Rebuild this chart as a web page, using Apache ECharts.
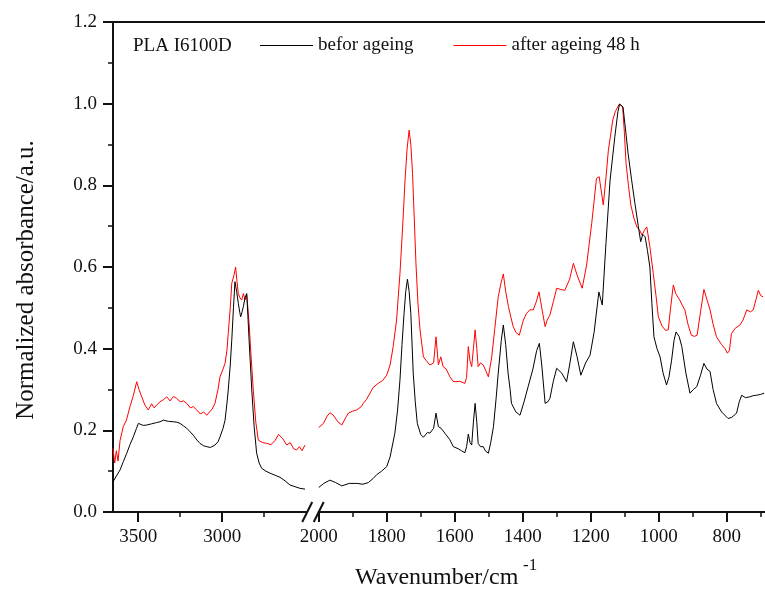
<!DOCTYPE html>
<html>
<head>
<meta charset="utf-8">
<script src="https://cdn.jsdelivr.net/npm/echarts@6/dist/echarts.min.js"></script>
<style>
  html, body { margin: 0; padding: 0; background: #fff; }
  #chart { width: 765px; height: 592px; }
</style>
</head>
<body>
<div id="chart"></div>
<script>
// FTIR spectra of PLA I6100D, before and after 48 h of ageing.
// The wavenumber axis is broken: 3650-2500 cm-1 on the left, 2000-600 cm-1 on the right.

// ---- before ageing, high-wavenumber region ----
const beforeHighWn = [3650,3630,3608,3588,3568,3549,3529,3510,3499,3470,3449,3420,3390,3370,3350,3320,3291,3270,3251,3231,3211,3190,3172,3150,3132,3110,3092,3070,3043,3025,3013,2995,2983,2972,2964,2952,2943,2933,2924,2914,2904,2895,2890,2882,2874,2864,2854,2847,2840,2832,2824,2810,2795,2780,2765,2740,2715,2685,2656,2625,2596,2567,2537,2507];
const beforeHighAbs = [0.074,0.088,0.103,0.124,0.144,0.165,0.184,0.205,0.217,0.212,0.213,0.216,0.219,0.221,0.225,0.222,0.221,0.220,0.217,0.211,0.205,0.196,0.188,0.176,0.168,0.162,0.160,0.158,0.164,0.172,0.184,0.205,0.225,0.265,0.299,0.360,0.421,0.500,0.564,0.540,0.511,0.488,0.478,0.490,0.503,0.525,0.535,0.480,0.421,0.360,0.299,0.210,0.144,0.120,0.107,0.100,0.095,0.090,0.085,0.076,0.066,0.062,0.058,0.056];

// ---- after ageing 48 h, high-wavenumber region ----
const afterHighWn = [3650,3640,3630,3620,3608,3589,3570,3549,3529,3509,3495,3479,3460,3440,3420,3405,3390,3370,3350,3330,3310,3290,3271,3250,3230,3211,3190,3172,3152,3130,3110,3092,3075,3060,3043,3025,3013,2995,2983,2972,2964,2952,2943,2930,2920,2912,2904,2895,2884,2874,2864,2854,2847,2840,2828,2815,2800,2785,2760,2735,2710,2685,2665,2656,2640,2616,2595,2575,2557,2540,2525,2507];
const afterHighAbs = [0.156,0.120,0.150,0.125,0.175,0.209,0.225,0.258,0.285,0.319,0.300,0.282,0.262,0.250,0.265,0.255,0.262,0.270,0.275,0.282,0.272,0.283,0.278,0.270,0.272,0.266,0.255,0.258,0.250,0.240,0.245,0.237,0.245,0.252,0.266,0.300,0.331,0.350,0.364,0.395,0.437,0.500,0.560,0.580,0.600,0.565,0.535,0.525,0.519,0.535,0.520,0.531,0.500,0.462,0.380,0.299,0.220,0.176,0.170,0.168,0.165,0.175,0.190,0.193,0.180,0.164,0.170,0.155,0.152,0.160,0.150,0.164];

// ---- before ageing, fingerprint region ----
const beforeLowWn = [2000,1985,1967,1950,1932,1910,1888,1870,1854,1840,1830,1815,1800,1790,1776,1768,1761,1755,1749,1744,1739,1734,1729,1722,1716,1710,1700,1692,1680,1673,1662,1655,1648,1640,1629,1615,1604,1590,1580,1570,1565,1560,1555,1550,1545,1540,1535,1531,1524,1516,1510,1501,1494,1486,1478,1472,1463,1457,1450,1443,1437,1433,1420,1408,1396,1384,1370,1359,1351,1344,1334,1326,1320,1310,1300,1285,1271,1262,1251,1240,1229,1215,1202,1190,1176,1166,1155,1143,1129,1120,1115,1105,1098,1090,1080,1070,1060,1053,1047,1040,1033,1026,1020,1014,1005,996,987,977,970,962,955,949,940,932,920,908,898,888,877,867,858,849,840,830,815,796,785,771,763,756,745,732,722,712,700,690];
const beforeLowAbs = [0.060,0.070,0.078,0.072,0.064,0.070,0.070,0.068,0.072,0.082,0.091,0.100,0.111,0.135,0.193,0.250,0.323,0.410,0.486,0.540,0.570,0.540,0.486,0.340,0.270,0.217,0.190,0.183,0.195,0.193,0.205,0.242,0.209,0.205,0.193,0.178,0.160,0.155,0.150,0.145,0.160,0.191,0.170,0.164,0.220,0.266,0.220,0.168,0.160,0.160,0.150,0.144,0.170,0.209,0.280,0.340,0.420,0.458,0.410,0.340,0.300,0.266,0.245,0.237,0.270,0.307,0.350,0.395,0.413,0.360,0.266,0.270,0.278,0.320,0.352,0.340,0.319,0.360,0.417,0.380,0.335,0.365,0.384,0.440,0.539,0.507,0.660,0.813,0.919,0.980,0.999,0.992,0.940,0.878,0.815,0.756,0.700,0.662,0.680,0.674,0.640,0.600,0.510,0.429,0.400,0.380,0.340,0.311,0.330,0.372,0.420,0.441,0.430,0.405,0.340,0.291,0.300,0.307,0.335,0.364,0.350,0.344,0.300,0.266,0.245,0.229,0.232,0.242,0.270,0.286,0.280,0.282,0.285,0.286,0.288,0.291];

// ---- after ageing 48 h, fingerprint region ----
const afterLowWn = [2000,1986,1975,1967,1958,1947,1940,1932,1920,1913,1900,1888,1875,1869,1860,1849,1840,1825,1812,1800,1790,1781,1771,1761,1753,1746,1740,1734,1729,1724,1719,1714,1708,1702,1692,1683,1673,1662,1655,1648,1641,1634,1625,1614,1605,1599,1585,1570,1565,1560,1555,1550,1545,1540,1535,1531,1524,1516,1508,1501,1491,1482,1472,1464,1457,1450,1442,1435,1428,1420,1410,1398,1389,1379,1369,1360,1352,1344,1334,1328,1320,1310,1300,1288,1276,1262,1251,1240,1225,1212,1197,1183,1175,1163,1155,1148,1135,1128,1116,1106,1101,1096,1089,1082,1073,1064,1056,1049,1042,1035,1026,1016,1008,1001,990,980,972,965,957,950,938,930,923,914,904,895,887,877,867,858,849,840,830,815,805,798,792,786,775,761,752,741,730,722,714,707,700,693];
const afterLowAbs = [0.207,0.217,0.235,0.243,0.238,0.225,0.218,0.213,0.232,0.242,0.247,0.250,0.258,0.266,0.275,0.291,0.305,0.315,0.322,0.335,0.360,0.405,0.470,0.584,0.700,0.813,0.890,0.935,0.900,0.829,0.720,0.609,0.510,0.446,0.380,0.370,0.360,0.365,0.429,0.360,0.380,0.356,0.350,0.331,0.320,0.319,0.320,0.315,0.330,0.405,0.370,0.356,0.400,0.446,0.400,0.356,0.365,0.360,0.345,0.331,0.380,0.450,0.527,0.560,0.583,0.540,0.503,0.478,0.454,0.440,0.433,0.470,0.486,0.495,0.495,0.515,0.539,0.500,0.454,0.470,0.482,0.515,0.548,0.545,0.543,0.570,0.609,0.580,0.548,0.605,0.707,0.817,0.821,0.752,0.820,0.886,0.960,0.980,0.999,0.992,0.930,0.854,0.800,0.752,0.720,0.698,0.690,0.678,0.690,0.698,0.650,0.584,0.530,0.478,0.455,0.445,0.446,0.500,0.556,0.535,0.519,0.505,0.495,0.460,0.433,0.430,0.433,0.490,0.545,0.520,0.495,0.460,0.429,0.410,0.400,0.389,0.395,0.437,0.450,0.458,0.470,0.495,0.490,0.495,0.520,0.543,0.530,0.527];

// ---- axis ticks ----
const yTicks = [0, 0.2, 0.4, 0.6, 0.8, 1.0, 1.2];
const highMajorTicks = [3000, 3500];
const highMinorTicks = [2750, 3250];
const lowMajorTicks = [2000, 1800, 1600, 1400, 1200, 1000, 800];

const sampleName = 'PLA I6100D';
const beforeName = 'befor ageing';
const afterName = 'after ageing 48 h';

const FONT = '"Liberation Serif", "Times New Roman", serif';
const INK = '#111';

function pairs(xs, ys) { return xs.map((x, i) => [x, ys[i]]); }

const chart = echarts.init(document.getElementById('chart'), null, { renderer: 'canvas' });

const baseX = {
  type: 'value', inverse: true, position: 'bottom',
  splitLine: { show: false },
  axisLine: { show: true, onZero: false, lineStyle: { color: INK, width: 2 } },
  axisTick: { show: true, inside: false, length: 10, lineStyle: { color: INK, width: 2 } },
  axisLabel: { show: true, margin: 16, fontFamily: FONT, fontSize: 19, color: INK, formatter: v => String(v) },
};

const option = {
  animation: false,
  backgroundColor: '#fff',
  grid: [
    { left: 113, top: 22, width: 193.2, height: 490, outerBoundsMode: 'none', containLabel: false },
    { left: 318.7, top: 22, width: 476, height: 490, outerBoundsMode: 'none', containLabel: false }
  ],
  xAxis: [
    Object.assign({}, baseX, {
      gridIndex: 0, min: 2500, max: 3650,
      axisTick: Object.assign({}, baseX.axisTick, { customValues: highMajorTicks }),
      axisLabel: Object.assign({}, baseX.axisLabel, { customValues: highMajorTicks })
    }),
    Object.assign({}, baseX, {
      gridIndex: 1, min: 600, max: 2000, interval: 200,
      minorTick: { show: true, splitNumber: 2, length: 5, lineStyle: { color: INK, width: 1.5 } },
      axisLabel: Object.assign({}, baseX.axisLabel, {
        formatter: v => (lowMajorTicks.indexOf(v) >= 0 ? String(v) : '')
      })
    }),
    // minor ticks of the left segment
    {
      type: 'value', inverse: true, position: 'bottom', gridIndex: 0, min: 2500, max: 3650,
      splitLine: { show: false },
      axisLine: { show: true, onZero: false, lineStyle: { color: INK, width: 2 } },
      axisTick: { show: true, inside: false, length: 5, customValues: highMinorTicks, lineStyle: { color: INK, width: 1.5 } },
      axisLabel: { show: false }
    }
  ],
  yAxis: [
    {
      type: 'value', gridIndex: 0, min: 0, max: 1.2, interval: 0.2,
      splitLine: { show: false },
      axisLine: { show: true, onZero: false, lineStyle: { color: INK, width: 2 } },
      axisTick: { show: true, inside: false, length: 10, lineStyle: { color: INK, width: 2 } },
      minorTick: { show: true, splitNumber: 2, length: 5, lineStyle: { color: INK, width: 1.5 } },
      axisLabel: {
        margin: 16, fontFamily: FONT, fontSize: 19, color: INK,
        formatter: v => (yTicks.some(t => Math.abs(t - v) < 1e-9) ? v.toFixed(1) : '')
      }
    },
    { type: 'value', gridIndex: 1, min: 0, max: 1.2, show: false }
  ],
  legend: {
    data: [
      { name: beforeName, icon: 'rect', itemStyle: { color: '#000' } },
      { name: afterName, icon: 'rect', itemStyle: { color: '#ff0000' } }
    ],
    left: 260, top: 36, padding: 0,
    itemWidth: 53, itemHeight: 1, itemGap: 40,
    textStyle: { fontFamily: FONT, fontSize: 19, color: INK },
    selectedMode: false
  },
  series: [
    { name: beforeName, type: 'line', xAxisIndex: 0, yAxisIndex: 0, data: pairs(beforeHighWn, beforeHighAbs),
      showSymbol: false, symbol: 'none', z: 3, lineStyle: { color: '#000', width: 1 }, itemStyle: { color: '#000' } },
    { name: beforeName, type: 'line', xAxisIndex: 1, yAxisIndex: 1, data: pairs(beforeLowWn, beforeLowAbs),
      showSymbol: false, symbol: 'none', z: 3, lineStyle: { color: '#000', width: 1 }, itemStyle: { color: '#000' } },
    { name: afterName, type: 'line', xAxisIndex: 0, yAxisIndex: 0, data: pairs(afterHighWn, afterHighAbs),
      showSymbol: false, symbol: 'none', z: 2, lineStyle: { color: '#ff0000', width: 1 }, itemStyle: { color: '#ff0000' } },
    { name: afterName, type: 'line', xAxisIndex: 1, yAxisIndex: 1, data: pairs(afterLowWn, afterLowAbs),
      showSymbol: false, symbol: 'none', z: 2, lineStyle: { color: '#ff0000', width: 1 }, itemStyle: { color: '#ff0000' } }
  ]
};

chart.setOption(option);

// Frame top line, axis-break marks and titles, placed from the axis scales.
const yBase = chart.convertToPixel({ yAxisIndex: 0 }, 0);
const yTop = chart.convertToPixel({ yAxisIndex: 0 }, 1.2);
const xLeft = chart.convertToPixel({ xAxisIndex: 0 }, 3650);
const breakA = chart.convertToPixel({ xAxisIndex: 0 }, 2500);
const breakB = chart.convertToPixel({ xAxisIndex: 1 }, 2000);

function slash(cx) {
  return {
    type: 'line', z: 10,
    shape: { x1: cx - 5, y1: yBase + 10, x2: cx + 5, y2: yBase - 10 },
    style: { stroke: INK, lineWidth: 2 }
  };
}

chart.setOption({
  graphic: [
    { type: 'line', z: 10, shape: { x1: xLeft - 1, y1: yTop, x2: 770, y2: yTop }, style: { stroke: INK, lineWidth: 2 } },
    slash(breakA + 1),
    slash(breakB),
    { type: 'text', left: 133, top: 37, style: { text: sampleName, font: '19px ' + FONT, fill: INK } },
    { type: 'text', x: 26, y: 280, rotation: Math.PI / 2, style: {
        text: 'Normalized absorbance/a.u.', font: '25px ' + FONT, fill: INK,
        align: 'center', verticalAlign: 'middle' } },
    { type: 'text', x: 355, y: 578, style: {
        text: 'Wavenumber/cm', font: '24px ' + FONT, fill: INK, align: 'left', verticalAlign: 'middle' } },
    { type: 'text', x: 523, y: 566, style: {
        text: '-1', font: '17px ' + FONT, fill: INK, align: 'left', verticalAlign: 'middle' } }
  ]
});
</script>
</body>
</html>
